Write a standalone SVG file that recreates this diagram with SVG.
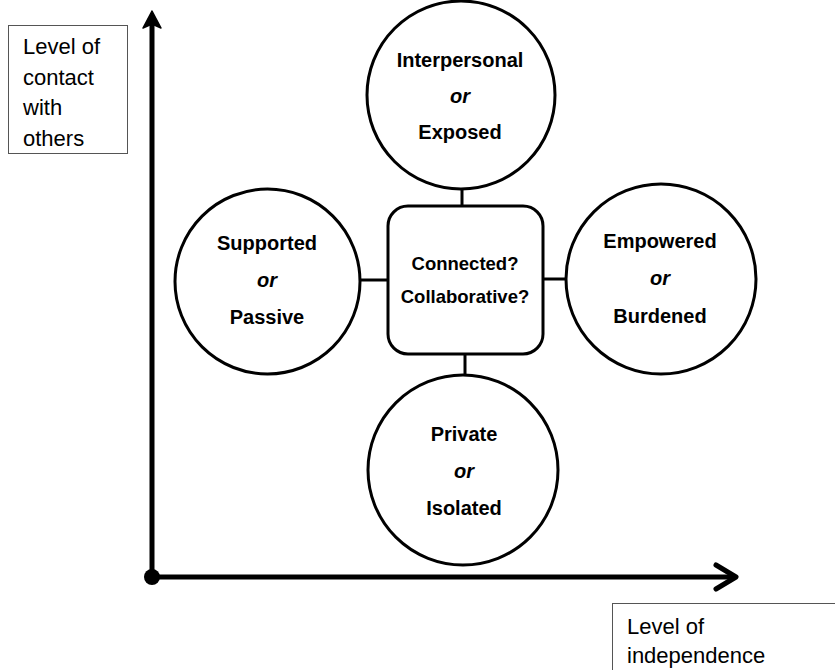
<svg xmlns="http://www.w3.org/2000/svg" width="835" height="670" viewBox="0 0 835 670">
<style>
.node{fill:#fff;stroke:#000;stroke-width:3}
.lbl{font-family:"Liberation Sans",Arial,sans-serif;font-weight:bold;font-size:20px;fill:#000;text-anchor:middle}
.it{font-style:italic}
.ctr{font-size:18.5px}
.ax{font-family:"Liberation Sans",Arial,sans-serif;font-size:22px;fill:#000}
.box{fill:#fff;stroke:#555;stroke-width:1}
.conn{stroke:#000;stroke-width:3;fill:none}
</style>
<rect width="835" height="670" fill="#fff"/>
<g id="axes">
<line x1="152" y1="577" x2="152" y2="22" stroke="#000" stroke-width="5"/>
<polygon points="152,11 143,28 152,24 161,28" fill="#000" stroke="#000" stroke-width="1.5" stroke-linejoin="round"/>
<line x1="152" y1="577" x2="734" y2="577" stroke="#000" stroke-width="5"/>
<polyline points="716,565 736,577 716,589" fill="none" stroke="#000" stroke-width="5" stroke-linecap="round" stroke-linejoin="round"/>
<circle cx="152" cy="577" r="8" fill="#000"/>
</g>
<g id="label-y">
<rect class="box" x="8.5" y="25.5" width="119" height="128"/>
<text class="ax" x="23" y="54">Level of</text>
<text class="ax" x="23" y="85">contact</text>
<text class="ax" x="23" y="115">with</text>
<text class="ax" x="23" y="146">others</text>
</g>
<g id="label-x">
<rect class="box" x="612.5" y="603.5" width="230" height="80"/>
<text class="ax" x="627" y="634">Level of</text>
<text class="ax" x="627" y="663">independence</text>
</g>
<g id="connectors">
<line class="conn" x1="462" y1="189" x2="462" y2="206"/>
<line class="conn" x1="359" y1="280" x2="388" y2="280"/>
<line class="conn" x1="543" y1="279" x2="567" y2="279"/>
<line class="conn" x1="465" y1="354" x2="465" y2="376"/>
</g>
<g id="node-center">
<rect class="node" x="388" y="206" width="155" height="148" rx="20"/>
<text class="lbl ctr" x="465" y="270">Connected?</text>
<text class="lbl ctr" x="465" y="303">Collaborative?</text>
</g>
<g id="node-top">
<circle class="node" cx="461" cy="95" r="94"/>
<text class="lbl" x="460" y="67">Interpersonal</text>
<text class="lbl it" x="460" y="103">or</text>
<text class="lbl" x="460" y="139">Exposed</text>
</g>
<g id="node-left">
<circle class="node" cx="267.5" cy="281.5" r="92.5"/>
<text class="lbl" x="267" y="250">Supported</text>
<text class="lbl it" x="267" y="287">or</text>
<text class="lbl" x="267" y="324">Passive</text>
</g>
<g id="node-right">
<circle class="node" cx="661" cy="279" r="95"/>
<text class="lbl" x="660" y="248">Empowered</text>
<text class="lbl it" x="660" y="285">or</text>
<text class="lbl" x="660" y="323">Burdened</text>
</g>
<g id="node-bottom">
<circle class="node" cx="463" cy="470" r="95"/>
<text class="lbl" x="464" y="441">Private</text>
<text class="lbl it" x="464" y="478">or</text>
<text class="lbl" x="464" y="515">Isolated</text>
</g>
</svg>
